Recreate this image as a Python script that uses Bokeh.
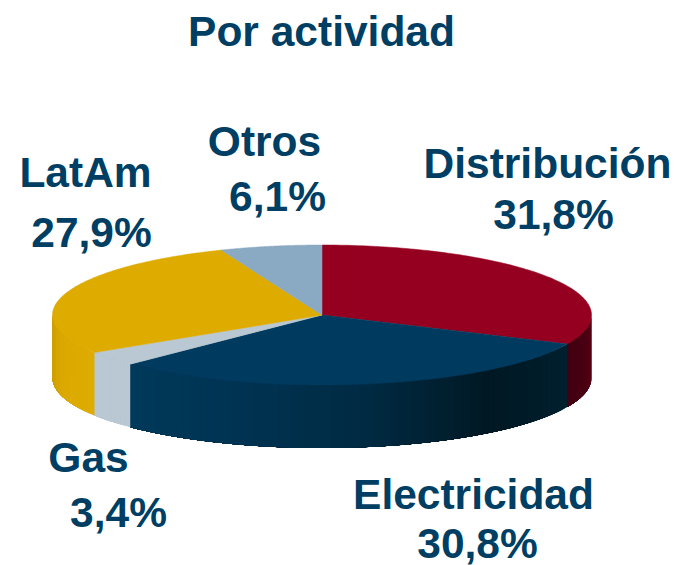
import numpy as np
from bokeh.plotting import figure
from bokeh.models import Range1d
from bokeh.embed import file_html
from bokeh.resources import INLINE
from bokeh.core.properties import value

title = "Por actividad"
categories = ["Distribución", "Electricidad", "Gas", "LatAm", "Otros"]
shares = [31.8, 30.8, 3.4, 27.9, 6.1]
share_labels = ["31,8%", "30,8%", "3,4%", "27,9%", "6,1%"]
top_colors = ["#960020", "#003A5E", "#B9C8D2", "#DEAB00", "#8AA9C2"]
# wall shading: colours from the wall's right end to its left end, per slice
wall_stops = {
    "Distribución": ["#5E0016", "#4A0012", "#400010"],
    "Electricidad": ["#00202F", "#001823", "#002A42", "#003352", "#00395A"],
    "Gas": ["#B9C8D2", "#B9C8D2"],
    "LatAm": ["#DEAB00", "#DBA900", "#C99C00"],
    "Otros": ["#8AA9C2", "#8AA9C2"],
}
label_pos = {
    "Distribución": (547, 163, 553, 214),
    "Electricidad": (473, 494, 477, 543),
    "Gas": (88, 457, 118, 512),
    "LatAm": (85, 172, 91, 232),
    "Otros": (264, 141, 277, 196),
}
CX, CY, RX, RY, DEPTH = 321.5, 314.5, 269.5, 70, 63
TEXT = "#003F63"
FONT_SIZE = "42.5px"


def ex(t):
    return CX + RX * np.sin(t)


def ey(t):
    return CY - RY * np.cos(t)


def hex2rgb(c):
    return np.array([int(c[i:i + 2], 16) for i in (1, 3, 5)], float)


def mix(stops, f):
    pts = [hex2rgb(s) for s in stops]
    g = f * (len(pts) - 1)
    i = min(int(g), len(pts) - 2)
    c = pts[i] + (pts[i + 1] - pts[i]) * (g - i)
    return "#%02X%02X%02X" % tuple(int(round(v)) for v in c)


p = figure(width=677, height=565, toolbar_location=None, output_backend="svg",
           x_range=Range1d(0, 677), y_range=Range1d(565, 0), min_border=0)
p.axis.visible = False
p.grid.visible = False
p.outline_line_color = None

edges = np.concatenate([[0], np.cumsum(shares)]) / sum(shares) * 2 * np.pi

# walls: each strip runs to the slice's far end and the next paints over it, so no seams
wx, wy, wc = [], [], []
for i, cat in enumerate(categories):
    a = max(edges[i], np.pi / 2)
    b = min(edges[i + 1], 3 * np.pi / 2)
    if b <= a:
        continue
    n = max(1, int((b - a) / 0.025))
    g = np.linspace(a, b, n + 1)
    for j in range(n):
        tt = np.linspace(g[j], b, 40)
        wx.append(list(ex(tt)) + list(ex(tt[::-1])))
        wy.append(list(ey(tt)) + list(ey(tt[::-1]) + DEPTH))
        wc.append(mix(wall_stops[cat], (j + 0.5) / n))
p.patches(wx, wy, fill_color=wc, line_color=None)

# top faces
for i, cat in enumerate(categories):
    tt = np.linspace(edges[i], edges[i + 1], 120)
    xs = [CX] + list(ex(tt))
    ys = [CY] + list(ey(tt))
    p.patch(xs, ys, fill_color=top_colors[i], line_color=top_colors[i], line_width=0.5)

# texts
p.text([321], [31], text=[title], text_font=value("Liberation Sans"), text_font_style="bold",
       text_font_size=FONT_SIZE, text_color=TEXT, text_align="center", text_baseline="middle")
for cat, lab in zip(categories, share_labels):
    x1, y1, x2, y2 = label_pos[cat]
    p.text([x1, x2], [y1, y2], text=[cat, lab], text_font=value("Liberation Sans"),
           text_font_style="bold", text_font_size=FONT_SIZE, text_color=TEXT,
           text_align="center", text_baseline="middle")

open("out.html", "w").write(file_html(p, INLINE))
